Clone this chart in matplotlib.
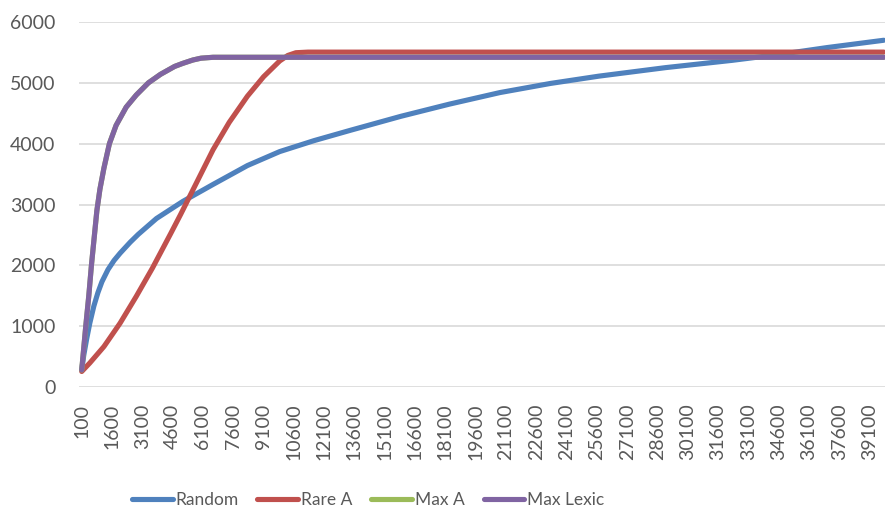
import matplotlib
matplotlib.use("Agg")
import matplotlib.pyplot as plt

plt.rcParams['font.family'] = ['Lato', 'DejaVu Sans']

# values (x = sample size, y = count)
random_x = [100, 200, 350, 500, 700, 900, 1100, 1400, 1700, 2000, 2500,
            2900, 3800, 5100, 6600, 8300, 9900, 11600, 13400, 15900, 18300,
            20800, 23300, 25700, 29000, 32300, 34700, 37000, 39800]
random_y = [280, 520, 800, 1050, 1330, 1550, 1730, 1930, 2080, 2200, 2380,
            2510, 2770, 3050, 3330, 3640, 3870, 4050, 4220, 4450, 4650,
            4840, 4990, 5110, 5250, 5370, 5470, 5580, 5700]

rare_x = [100, 500, 1200, 2000, 2800, 3600, 4500, 5000, 5800, 6600, 7400,
          8300, 9100, 9900, 10300, 10700, 11300, 39800]
rare_y = [255, 395, 665, 1050, 1490, 1955, 2520, 2840, 3370, 3900, 4350,
          4780, 5100, 5360, 5450, 5495, 5505, 5505]

maxa_x = [100, 200, 300, 450, 580, 730, 850, 1000, 1200, 1470, 1800, 2300,
          2800, 3400, 4000, 4700, 5100, 5600, 6000, 6600, 39800]
maxa_y = [280, 640, 1000, 1500, 2000, 2500, 2900, 3250, 3600, 4000, 4300,
          4600, 4800, 5000, 5140, 5270, 5320, 5375, 5405, 5420, 5420]

lexic_x = maxa_x
lexic_y = maxa_y

tick_vals = list(range(100, 39101, 1500))

fig = plt.figure(figsize=(8.85, 5.13), dpi=100)
ax = fig.add_axes([79 / 885, 1 - 387 / 513, 806 / 885, 365 / 513])

lw = 3.7
ax.plot(random_x, random_y, color='#4F81BD', lw=lw, label='Random',
        solid_capstyle='round', solid_joinstyle='round')
ax.plot(rare_x, rare_y, color='#C0504D', lw=lw, label='Rare A',
        solid_capstyle='round', solid_joinstyle='round')
ax.plot(maxa_x, maxa_y, color='#9BBB59', lw=lw, label='Max A',
        solid_capstyle='round', solid_joinstyle='round')
ax.plot(lexic_x, lexic_y, color='#8064A2', lw=lw, label='Max Lexic',
        solid_capstyle='round', solid_joinstyle='round')

ax.set_ylim(0, 6000)
ax.set_xlim(-35, 39860)
ax.set_yticks(range(0, 6001, 1000))
ax.set_xticks(tick_vals)
ax.set_xticklabels([str(v) for v in tick_vals], rotation=90)
ax.tick_params(axis='both', length=0, labelsize=14, colors='#595959')
ax.tick_params(axis='y', pad=17)
ax.tick_params(axis='x', pad=12)

ax.grid(axis='y', color='#D9D9D9', lw=1.2)
ax.set_axisbelow(True)
for s in ax.spines.values():
    s.set_visible(False)

leg = fig.legend(loc='center', bbox_to_anchor=(368 / 885, 1 - 500 / 513),
                 ncol=4, frameon=False, fontsize=12.5, handlelength=2.35,
                 handletextpad=0.15, columnspacing=1.1)
for t in leg.get_texts():
    t.set_color('#595959')

fig.savefig('out.png', dpi=100)
